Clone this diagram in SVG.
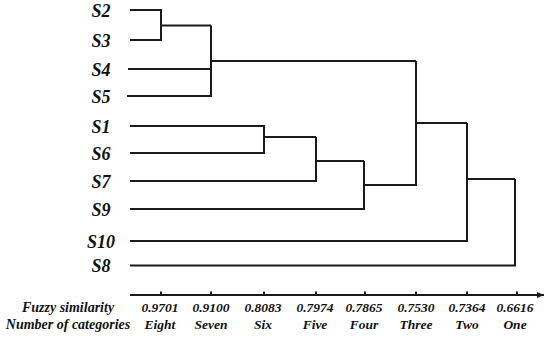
<svg xmlns="http://www.w3.org/2000/svg" width="550" height="337" viewBox="0 0 550 337">
  <style>
    .lbl { font-family: "Liberation Serif", "Times New Roman", serif; font-weight: bold; font-style: italic; fill: #111; }
    .leaf { font-size: 18px; text-anchor: middle; }
    .val { font-size: 13.5px; text-anchor: middle; }
    .head { font-size: 14px; text-anchor: middle; }
    .ln { fill: none; stroke: #1a1a1a; stroke-width: 2; stroke-linecap: butt; stroke-linejoin: miter; }
  </style>
  <defs>
    <marker id="arrow" markerWidth="7" markerHeight="7" refX="7" refY="3.5" orient="auto" markerUnits="userSpaceOnUse">
      <path d="M0,0.5 L7,3.5 L0,6.5 Z" fill="#1a1a1a"/>
    </marker>
  </defs>
  <rect width="550" height="337" fill="#fff"/>

  <g id="leaves">
    <g id="node-S2"><text class="lbl leaf" x="101" y="16.5">S2</text></g>
    <g id="node-S3"><text class="lbl leaf" x="101" y="46.5">S3</text></g>
    <g id="node-S4"><text class="lbl leaf" x="101" y="75.5">S4</text></g>
    <g id="node-S5"><text class="lbl leaf" x="101" y="102.5">S5</text></g>
    <g id="node-S1"><text class="lbl leaf" x="101" y="132.5">S1</text></g>
    <g id="node-S6"><text class="lbl leaf" x="101" y="159.5">S6</text></g>
    <g id="node-S7"><text class="lbl leaf" x="101" y="187.5">S7</text></g>
    <g id="node-S9"><text class="lbl leaf" x="101" y="215.5">S9</text></g>
    <g id="node-S10"><text class="lbl leaf" x="101" y="247.5">S10</text></g>
    <g id="node-S8"><text class="lbl leaf" x="101" y="272">S8</text></g>
  </g>

  <g id="connectors">
    <path class="ln" d="M130,10 H161 V40 H130"/>
    <path class="ln" d="M161,25.5 H211"/>
    <path class="ln" d="M128,69 H211"/>
    <path class="ln" d="M127,96 H211 V25.5"/>
    <path class="ln" d="M211,61 H416"/>
    <path class="ln" d="M130,126 H264 V153 H130"/>
    <path class="ln" d="M264,137 H316"/>
    <path class="ln" d="M130,181 H316 V137"/>
    <path class="ln" d="M316,161 H364"/>
    <path class="ln" d="M130,209 H364 V161"/>
    <path class="ln" d="M364,185 H416 V61"/>
    <path class="ln" d="M416,123 H467"/>
    <path class="ln" d="M130,241 H467 V123"/>
    <path class="ln" d="M467,179 H515"/>
    <path class="ln" d="M130,265.5 H515 V179"/>
  </g>

  <g id="axis">
    <path class="ln" d="M130,295 H544" marker-end="url(#arrow)"/>
    <path class="ln" d="M161,291.5 V295 M211,291.5 V295 M264,291.5 V295 M316,291.5 V295 M365,291.5 V295 M416,291.5 V295 M467,291.5 V295 M517,291.5 V295"/>
    <text class="lbl head" x="68" y="312">Fuzzy similarity</text>
    <text class="lbl head" x="68" y="328.5">Number of categories</text>
    <text class="lbl val" x="160" y="312">0.9701</text>
    <text class="lbl val" x="211" y="312">0.9100</text>
    <text class="lbl val" x="263" y="312">0.8083</text>
    <text class="lbl val" x="315" y="312">0.7974</text>
    <text class="lbl val" x="364" y="312">0.7865</text>
    <text class="lbl val" x="416" y="312">0.7530</text>
    <text class="lbl val" x="467" y="312">0.7364</text>
    <text class="lbl val" x="515" y="312">0.6616</text>
    <text class="lbl val" x="160" y="328.5">Eight</text>
    <text class="lbl val" x="211" y="328.5">Seven</text>
    <text class="lbl val" x="263" y="328.5">Six</text>
    <text class="lbl val" x="315" y="328.5">Five</text>
    <text class="lbl val" x="364" y="328.5">Four</text>
    <text class="lbl val" x="416" y="328.5">Three</text>
    <text class="lbl val" x="467" y="328.5">Two</text>
    <text class="lbl val" x="515" y="328.5">One</text>
  </g>
</svg>
